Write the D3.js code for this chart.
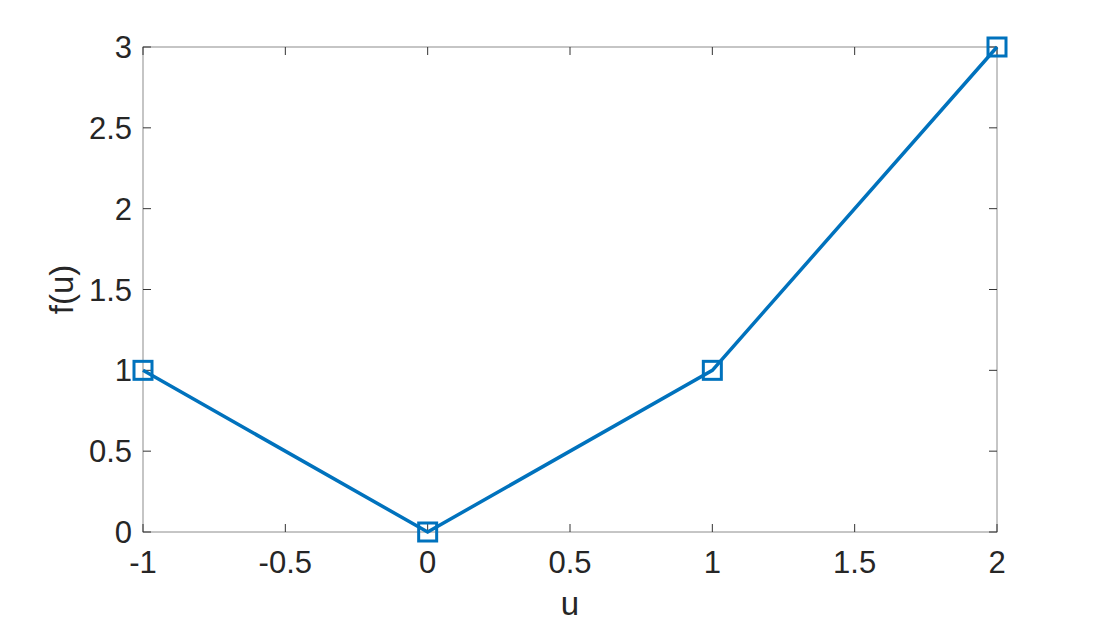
<!DOCTYPE html>
<html>
<head>
<meta charset="utf-8">
<script src="https://cdn.jsdelivr.net/npm/d3@7"></script>
<style>
  body { margin: 0; background: #fff; }
  text { font-family: "Liberation Sans", Arial, Helvetica, sans-serif; fill: #262626; }
</style>
</head>
<body>
<svg id="chart" width="1102" height="624"></svg>
<script>
var uValues = [-1, 0, 1, 2];
var fValues = [1, 0, 1, 3];
var xTicks = [-1, -0.5, 0, 0.5, 1, 1.5, 2];
var yTicks = [0, 0.5, 1, 1.5, 2, 2.5, 3];

var svg = d3.select("#chart"),
    margin = {top: 47, right: 105, bottom: 92, left: 143},
    width = +svg.attr("width") - margin.left - margin.right,
    height = +svg.attr("height") - margin.top - margin.bottom,
    g = svg.append("g").attr("transform", "translate(" + margin.left + "," + margin.top + ")");

var x = d3.scaleLinear().domain([-1, 2]).range([0, width]);
var y = d3.scaleLinear().domain([0, 3]).range([height, 0]);

var tickLen = 8, lineCol = "#8c8c8c", tickCol = "#333";

// box
g.append("rect")
    .attr("x", 0).attr("y", 0)
    .attr("width", width).attr("height", height)
    .attr("fill", "none").attr("stroke", lineCol).attr("stroke-width", 1);

// ticks on all four sides, pointing inward
xTicks.forEach(function (t) {
    g.append("line").attr("x1", x(t)).attr("x2", x(t)).attr("y1", height).attr("y2", height - tickLen)
        .attr("stroke", tickCol);
    g.append("line").attr("x1", x(t)).attr("x2", x(t)).attr("y1", 0).attr("y2", tickLen)
        .attr("stroke", tickCol);
});
yTicks.forEach(function (t) {
    g.append("line").attr("x1", 0).attr("x2", tickLen).attr("y1", y(t)).attr("y2", y(t))
        .attr("stroke", tickCol);
    g.append("line").attr("x1", width).attr("x2", width - tickLen).attr("y1", y(t)).attr("y2", y(t))
        .attr("stroke", tickCol);
});

// tick labels
g.selectAll(".xlab").data(xTicks).enter().append("text")
    .attr("class", "xlab")
    .attr("x", function (d) { return x(d); })
    .attr("y", height + 41)
    .attr("text-anchor", "middle")
    .attr("font-size", 31)
    .text(function (d) { return d; });

g.selectAll(".ylab").data(yTicks).enter().append("text")
    .attr("class", "ylab")
    .attr("x", -11)
    .attr("y", function (d) { return y(d); })
    .attr("dy", "0.36em")
    .attr("text-anchor", "end")
    .attr("font-size", 31)
    .text(function (d) { return d; });

// axis labels
g.append("text")
    .attr("x", width / 2)
    .attr("y", height + 83)
    .attr("text-anchor", "middle")
    .attr("font-size", 33)
    .text("u");

g.append("text")
    .attr("transform", "translate(" + (-70) + "," + (height / 2) + ") rotate(-90)")
    .attr("text-anchor", "middle")
    .attr("font-size", 33)
    .text("f(u)");

// line + markers
var pts = uValues.map(function (u, i) { return [u, fValues[i]]; });
var line = d3.line()
    .x(function (d) { return x(d[0]); })
    .y(function (d) { return y(d[1]); });

g.append("path")
    .datum(pts)
    .attr("d", line)
    .attr("fill", "none")
    .attr("stroke", "#0072BD")
    .attr("stroke-width", 3.5);

var ms = 18;
g.selectAll(".marker").data(pts).enter().append("rect")
    .attr("class", "marker")
    .attr("x", function (d) { return x(d[0]) - ms / 2; })
    .attr("y", function (d) { return y(d[1]) - ms / 2; })
    .attr("width", ms).attr("height", ms)
    .attr("fill", "none")
    .attr("stroke", "#0072BD")
    .attr("stroke-width", 3);
</script>
</body>
</html>
